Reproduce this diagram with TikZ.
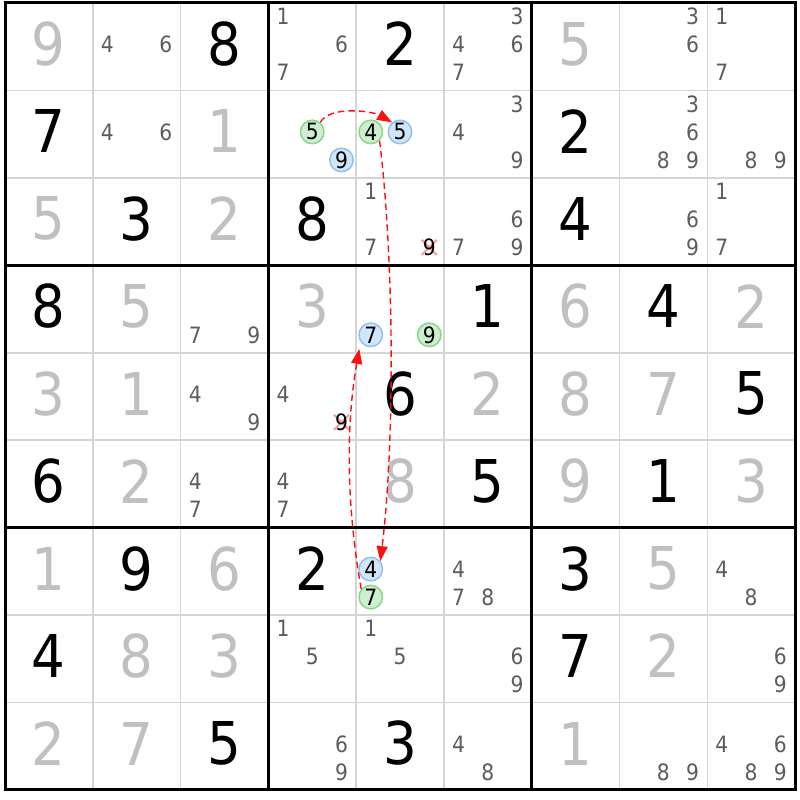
\documentclass[tikz,border=0pt]{standalone}
\usepackage{fontspec}
\setmainfont{DejaVu Sans}[FakeStretch=0.9]
\usetikzlibrary{arrows.meta}
\definecolor{solvedgray}{HTML}{C0C0C0}
\definecolor{candgray}{HTML}{5C5C5C}
\definecolor{gridgray}{HTML}{D4D4D4}
\definecolor{gfill}{HTML}{CDEFD0}
\definecolor{gline}{HTML}{88D68A}
\definecolor{bfill}{HTML}{D2E6FA}
\definecolor{bline}{HTML}{92C0EE}
\definecolor{xpink}{HTML}{F29C9C}
\definecolor{chainred}{HTML}{FF1010}
\tikzset{
  bigd/.style={inner sep=0pt, font=\fontsize{59}{60}\selectfont},
  givend/.style={bigd, text=black},
  solvedd/.style={bigd, text=solvedgray},
  candd/.style={inner sep=0pt, font=\fontsize{22.5}{23}\selectfont, text=candgray},
  gcirc/.style={circle, draw=gline, fill=gfill, line width=1.5pt, minimum size=23.5pt, inner sep=0pt, text=black, font=\fontsize{22.5}{23}\selectfont},
  bcirc/.style={circle, draw=bline, fill=bfill, line width=1.5pt, minimum size=23.5pt, inner sep=0pt, text=black, font=\fontsize{22.5}{23}\selectfont},
  xcand/.style={inner sep=0pt, font=\fontsize{22.5}{23}\selectfont, text=black},
  xmark/.style={draw=xpink, line width=2pt},
  gridthin/.style={draw=gridgray, line width=1.5pt},
  gridthick/.style={draw=black, line width=3pt},
  chain/.style={draw=chainred, line width=1.4pt, dash pattern=on 6.5pt off 4pt, -{Triangle[length=15pt,width=11pt]}},
}
\newcommand{\Gv}[3]{\node[givend] (v#1#2) at ({5+(#2-0.5)*87.78},{797-(#1-1)*87.44-41}) {#3};}
\newcommand{\Sv}[3]{\node[solvedd] (v#1#2) at ({5+(#2-0.5)*87.78},{797-(#1-1)*87.44-41}) {#3};}
\newcommand{\Cn}[3]{\foreach \d in {#3}{\node[candd] (k#1#2\d) at ({5+(#2-1)*87.78+87.78*(1+2*mod(\d-1,3))/6},{797-(#1-1)*87.44-13.5-28*floor((\d-1)/3)}) {\d};}}
\newcommand{\Cg}[3]{\node[gcirc] (k#1#2#3) at ({5+(#2-1)*87.78+87.78*(1+2*mod(#3-1,3))/6},{797-(#1-1)*87.44-13.5-28*floor((#3-1)/3)}) {#3};}
\newcommand{\Cb}[3]{\node[bcirc] (k#1#2#3) at ({5+(#2-1)*87.78+87.78*(1+2*mod(#3-1,3))/6},{797-(#1-1)*87.44-13.5-28*floor((#3-1)/3)}) {#3};}
\newcommand{\Cx}[3]{\coordinate (x#1#2#3) at ({5+(#2-1)*87.78+87.78*(1+2*mod(#3-1,3))/6},{797-(#1-1)*87.44-13.5-28*floor((#3-1)/3)});
  \draw[xmark] (x#1#2#3) +(-7.5,-7.5) -- +(7.5,7.5) +(-7.5,7.5) -- +(7.5,-7.5);
  \node[xcand] (k#1#2#3) at (x#1#2#3) {#3};}
\begin{document}
\begin{tikzpicture}[x=1pt,y=1pt]
\useasboundingbox (0,0) rectangle (800,800);
\fill[white] (0,0) rectangle (800,800);
% thin grid
\foreach \i in {1,2,4,5,7,8}{
  \draw[gridthin] ({5+\i*87.78},10) -- ({5+\i*87.78},797);
  \draw[gridthin] (5,{797-\i*87.44}) -- (795,{797-\i*87.44});
}
\foreach \i in {3,6}{
  \draw[gridthick] ({5+\i*87.78},10) -- ({5+\i*87.78},797);
  \draw[gridthick] (5,{797-\i*87.44}) -- (795,{797-\i*87.44});
}
\draw[gridthick] (5,10) rectangle (795,797);
% row 1
\Sv{1}{1}{9} \Cn{1}{2}{4,6} \Gv{1}{3}{8} \Cn{1}{4}{1,6,7} \Gv{1}{5}{2} \Cn{1}{6}{3,4,6,7} \Sv{1}{7}{5} \Cn{1}{8}{3,6} \Cn{1}{9}{1,7}
% row 2
\Gv{2}{1}{7} \Cn{2}{2}{4,6} \Sv{2}{3}{1} \Cg{2}{4}{5} \Cb{2}{4}{9} \Cg{2}{5}{4} \Cb{2}{5}{5} \Cn{2}{6}{3,4,9} \Gv{2}{7}{2} \Cn{2}{8}{3,6,8,9} \Cn{2}{9}{8,9}
% row 3
\Sv{3}{1}{5} \Gv{3}{2}{3} \Sv{3}{3}{2} \Gv{3}{4}{8} \Cn{3}{5}{1,7} \Cx{3}{5}{9} \Cn{3}{6}{6,7,9} \Gv{3}{7}{4} \Cn{3}{8}{6,9} \Cn{3}{9}{1,7}
% row 4
\Gv{4}{1}{8} \Sv{4}{2}{5} \Cn{4}{3}{7,9} \Sv{4}{4}{3} \Cb{4}{5}{7} \Cg{4}{5}{9} \Gv{4}{6}{1} \Sv{4}{7}{6} \Gv{4}{8}{4} \Sv{4}{9}{2}
% row 5
\Sv{5}{1}{3} \Sv{5}{2}{1} \Cn{5}{3}{4,9} \Cn{5}{4}{4} \Cx{5}{4}{9} \Gv{5}{5}{6} \Sv{5}{6}{2} \Sv{5}{7}{8} \Sv{5}{8}{7} \Gv{5}{9}{5}
% row 6
\Gv{6}{1}{6} \Sv{6}{2}{2} \Cn{6}{3}{4,7} \Cn{6}{4}{4,7} \Sv{6}{5}{8} \Gv{6}{6}{5} \Sv{6}{7}{9} \Gv{6}{8}{1} \Sv{6}{9}{3}
% row 7
\Sv{7}{1}{1} \Gv{7}{2}{9} \Sv{7}{3}{6} \Gv{7}{4}{2} \Cb{7}{5}{4} \Cg{7}{5}{7} \Cn{7}{6}{4,7,8} \Gv{7}{7}{3} \Sv{7}{8}{5} \Cn{7}{9}{4,8}
% row 8
\Gv{8}{1}{4} \Sv{8}{2}{8} \Sv{8}{3}{3} \Cn{8}{4}{1,5} \Cn{8}{5}{1,5} \Cn{8}{6}{6,9} \Gv{8}{7}{7} \Sv{8}{8}{2} \Cn{8}{9}{6,9}
% row 9
\Sv{9}{1}{2} \Sv{9}{2}{7} \Gv{9}{3}{5} \Cn{9}{4}{6,9} \Gv{9}{5}{3} \Cn{9}{6}{4,8} \Sv{9}{7}{1} \Cn{9}{8}{8,9} \Cn{9}{9}{4,6,8,9}
% chain arrows
\draw[chain] (k245.50) .. controls +(60:20) and +(150:22) .. (k255.130);
\draw[chain] (k254.-45) .. controls +(-83:120) and +(83:120) .. (k754.40);
\draw[chain, shorten >=7pt] (k757.140) .. controls +(100:85) and +(-100:85) .. (k457.-145);
\end{tikzpicture}
\end{document}
